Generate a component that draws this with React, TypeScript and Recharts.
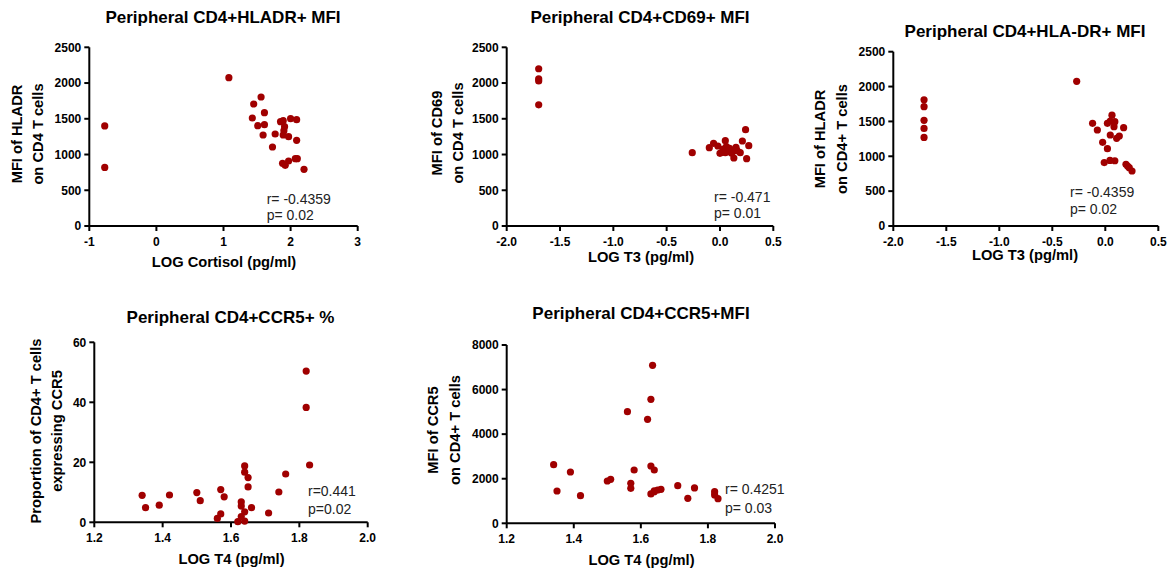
import React from "react";
import { ScatterChart, Scatter, XAxis, YAxis } from "recharts";

// GraphPad-style look: bold Arial, black 2px axes, dark red dots.
const FONT = "Arial, 'Liberation Sans', Helvetica, sans-serif";
const DOT = "#a00000";
const INK = "#000";

// --- data ---

// Peripheral CD4+HLADR+ MFI vs LOG Cortisol
const cortisolLog = [-0.77, -0.77, 1.08, 1.56, 1.45, 1.61, 1.43, 1.51, 1.61, 1.59, 1.77, 1.73, 1.85, 1.89, 2.0, 2.09, 1.91, 1.9, 1.89, 1.97, 2.09, 1.88, 1.92, 1.97, 2.07, 2.1, 2.2];
const hladrMfiCortisol = [1400, 820, 2075, 1805, 1707, 1586, 1511, 1403, 1418, 1273, 1287, 1105, 1460, 1473, 1502, 1488, 1390, 1334, 1273, 1250, 1199, 877, 849, 909, 942, 942, 793];

// Peripheral CD4+CD69+ MFI vs LOG T3
const t3LogCd69 = [-1.7, -1.7, -1.7, -1.7, -0.26, -0.1, -0.06, -0.02, 0.0, 0.02, 0.03, 0.05, 0.05, 0.06, 0.08, 0.09, 0.11, 0.12, 0.13, 0.15, 0.16, 0.19, 0.21, 0.24, 0.25, 0.27];
const cd69Mfi = [2200, 2060, 2030, 1695, 1026, 1096, 1157, 1119, 1017, 1031, 1075, 1194, 1026, 1110, 1040, 1087, 1017, 1060, 951, 1101, 1054, 1026, 1189, 1348, 942, 1124];

// Peripheral CD4+HLA-DR+ MFI vs LOG T3
const t3LogHladr = [-1.71, -1.71, -1.71, -1.71, -1.71, -0.27, -0.12, -0.075, -0.025, 0.02, -0.01, 0.044, 0.09, 0.063, 0.02, 0.047, 0.09, 0.082, 0.047, 0.107, 0.132, 0.173, 0.195, 0.21, 0.226, 0.252];
const hladrMfiT3 = [1810, 1711, 1515, 1400, 1271, 2075, 1472, 1377, 1200, 1109, 910, 940, 936, 1590, 1472, 1506, 1496, 1424, 1305, 1257, 1291, 1410, 884, 860, 836, 789];

// Peripheral CD4+CCR5+ % vs LOG T4
const t4LogPct = [1.34, 1.35, 1.39, 1.42, 1.5, 1.51, 1.56, 1.57, 1.57, 1.58, 1.62, 1.63, 1.63, 1.63, 1.64, 1.64, 1.64, 1.64, 1.65, 1.65, 1.66, 1.71, 1.74, 1.76, 1.82, 1.82, 1.83];
const ccr5Pct = [9.0, 4.9, 5.7, 9.1, 9.9, 7.2, 1.3, 2.8, 10.9, 8.5, 0.2, 1.9, 6.8, 5.4, 3.5, 0.4, 18.8, 16.7, 14.9, 11.8, 4.9, 3.1, 10.1, 16.1, 50.4, 38.3, 19.1];

// Peripheral CD4+CCR5+ MFI vs LOG T4
const t4LogMfi = [1.34, 1.35, 1.39, 1.42, 1.5, 1.51, 1.56, 1.57, 1.57, 1.58, 1.62, 1.63, 1.63, 1.63, 1.64, 1.64, 1.64, 1.65, 1.66, 1.71, 1.74, 1.76, 1.82, 1.82, 1.83, 1.635];
const ccr5Mfi = [2631, 1450, 2302, 1241, 1899, 1973, 5008, 1794, 1570, 2392, 4664, 5561, 2571, 1316, 2392, 1420, 1460, 1495, 1525, 1689, 1121, 1585, 1420, 1271, 1106, 7086];

// tick values
const cortisolTicks = [-1, 0, 1, 2, 3];
const t3Ticks = [-2, -1.5, -1, -0.5, 0, 0.5];
const t4Ticks = [1.2, 1.4, 1.6, 1.8, 2.0];
const mfi2500Ticks = [0, 500, 1000, 1500, 2000, 2500];
const pctTicks = [0, 20, 40, 60];
const mfi8000Ticks = [0, 2000, 4000, 6000, 8000];

type Pt = { x: number; y: number };
const zip = (xs: number[], ys: number[]): Pt[] => xs.map((x, i) => ({ x, y: ys[i] }));

const fixed1 = (v: number) => v.toFixed(1);
const plain = (v: number) => String(v);

const axisStyle = { stroke: INK, strokeWidth: 2 };
const tickStyle = { fill: INK, fontSize: 12, fontWeight: 700, fontFamily: FONT };

function Dot(props: any) {
  const { cx, cy } = props;
  if (cx == null || cy == null) return null;
  return <circle cx={cx} cy={cy} r={3.6} fill={DOT} />;
}

type Box = { left: number; top: number; w: number; h: number };
type Plot = { x0: number; x1: number; y0: number; y1: number };

type PanelDef = {
  box: Box;
  plot: Plot;
  data: Pt[];
  xTicks: number[];
  yTicks: number[];
  xFmt: (v: number) => string;
  title: string;
  titleAt: [number, number];
  xLabel: string;
  xLabelAt: [number, number];
  yLines: [string, string];
  yLineX: [number, number];
  yMid: number;
  stats: [string, string];
  statsAt: [number, number, number];
};

const Y_W = 45;
const X_H = 30;

function Panel({ d }: { d: PanelDef }) {
  const { box, plot } = d;
  const margin = {
    left: plot.x0 - box.left - Y_W,
    right: box.left + box.w - plot.x1,
    top: plot.y0 - box.top,
    bottom: box.top + box.h - plot.y1 - X_H,
  };
  const xs = d.xTicks;
  const ys = d.yTicks;
  return (
    <div style={{ position: "absolute", left: box.left, top: box.top }}>
      <ScatterChart width={box.w} height={box.h} margin={margin}>
        <XAxis
          type="number"
          dataKey="x"
          domain={[xs[0], xs[xs.length - 1]]}
          ticks={xs}
          interval={0}
          tickFormatter={d.xFmt}
          height={X_H}
          tickSize={5}
          tickMargin={6}
          axisLine={axisStyle}
          tickLine={axisStyle}
          tick={tickStyle}
        />
        <YAxis
          type="number"
          dataKey="y"
          domain={[ys[0], ys[ys.length - 1]]}
          ticks={ys}
          interval={0}
          tickFormatter={plain}
          width={Y_W}
          tickSize={5}
          tickMargin={3}
          axisLine={axisStyle}
          tickLine={axisStyle}
          tick={tickStyle}
        />
        <Scatter data={d.data} shape={Dot} isAnimationActive={false} />
      </ScatterChart>
    </div>
  );
}

function PanelText({ d }: { d: PanelDef }) {
  return (
    <g fontFamily={FONT}>
      <text x={d.titleAt[0]} y={d.titleAt[1]} textAnchor="middle" fontSize={17} fontWeight={700} fill={INK}>
        {d.title}
      </text>
      <text x={d.xLabelAt[0]} y={d.xLabelAt[1]} textAnchor="middle" fontSize={14.7} fontWeight={700} fill={INK}>
        {d.xLabel}
      </text>
      {d.yLines.map((line, i) => (
        <text
          key={i}
          x={d.yLineX[i]}
          y={d.yMid}
          transform={`rotate(-90 ${d.yLineX[i]} ${d.yMid})`}
          textAnchor="middle"
          fontSize={14.7}
          fontWeight={700}
          fill={INK}
        >
          {line}
        </text>
      ))}
      <text x={d.statsAt[0]} y={d.statsAt[1]} fontSize={14} fill="#222">
        {d.stats[0]}
      </text>
      <text x={d.statsAt[0]} y={d.statsAt[2]} fontSize={14} fill="#222">
        {d.stats[1]}
      </text>
    </g>
  );
}

const panels: PanelDef[] = [
  {
    box: { left: 0, top: 0, w: 380, h: 290 },
    plot: { x0: 89.3, x1: 357.7, y0: 47.3, y1: 226 },
    data: zip(cortisolLog, hladrMfiCortisol),
    xTicks: cortisolTicks,
    yTicks: mfi2500Ticks,
    xFmt: plain,
    title: "Peripheral CD4+HLADR+ MFI",
    titleAt: [223, 23],
    xLabel: "LOG Cortisol (pg/ml)",
    xLabelAt: [224, 267],
    yLines: ["MFI of HLADR", "on CD4 T cells"],
    yLineX: [22, 43],
    yMid: 134,
    stats: ["r= -0.4359", "p= 0.02"],
    statsAt: [266.7, 204, 220],
  },
  {
    box: { left: 390, top: 0, w: 400, h: 290 },
    plot: { x0: 506.7, x1: 773.3, y0: 47.3, y1: 226 },
    data: zip(t3LogCd69, cd69Mfi),
    xTicks: t3Ticks,
    yTicks: mfi2500Ticks,
    xFmt: fixed1,
    title: "Peripheral CD4+CD69+ MFI",
    titleAt: [640, 23],
    xLabel: "LOG T3 (pg/ml)",
    xLabelAt: [641, 262],
    yLines: ["MFI of CD69", "on CD4 T cells"],
    yLineX: [442, 463],
    yMid: 133,
    stats: ["r= -0.471", "p= 0.01"],
    statsAt: [714, 202, 218],
  },
  {
    box: { left: 790, top: 0, w: 382, h: 290 },
    plot: { x0: 893.3, x1: 1158.3, y0: 51.7, y1: 226 },
    data: zip(t3LogHladr, hladrMfiT3),
    xTicks: t3Ticks,
    yTicks: mfi2500Ticks,
    xFmt: fixed1,
    title: "Peripheral CD4+HLA-DR+ MFI",
    titleAt: [1025, 37],
    xLabel: "LOG T3 (pg/ml)",
    xLabelAt: [1025, 260],
    yLines: ["MFI of HLADR", "on CD4+ T cells"],
    yLineX: [825, 846.7],
    yMid: 139,
    stats: ["r= -0.4359", "p= 0.02"],
    statsAt: [1070, 197, 214],
  },
  {
    box: { left: 0, top: 290, w: 390, h: 281 },
    plot: { x0: 94.3, x1: 367.7, y0: 342.3, y1: 522.3 },
    data: zip(t4LogPct, ccr5Pct),
    xTicks: t4Ticks,
    yTicks: pctTicks,
    xFmt: fixed1,
    title: "Peripheral CD4+CCR5+ %",
    titleAt: [230.5, 323],
    xLabel: "LOG T4 (pg/ml)",
    xLabelAt: [231.5, 564],
    yLines: ["Proportion of CD4+ T cells", "expressing CCR5"],
    yLineX: [41, 62],
    yMid: 431,
    stats: ["r=0.441", "p=0.02"],
    statsAt: [308, 496, 514],
  },
  {
    box: { left: 390, top: 290, w: 400, h: 281 },
    plot: { x0: 506.7, x1: 775, y0: 345, y1: 523.3 },
    data: zip(t4LogMfi, ccr5Mfi),
    xTicks: t4Ticks,
    yTicks: mfi8000Ticks,
    xFmt: fixed1,
    title: "Peripheral CD4+CCR5+MFI",
    titleAt: [641, 319],
    xLabel: "LOG T4 (pg/ml)",
    xLabelAt: [641.5, 565],
    yLines: ["MFI of CCR5", "on CD4+ T cells"],
    yLineX: [438, 460],
    yMid: 430,
    stats: ["r= 0.4251", "p= 0.03"],
    statsAt: [725, 494, 513],
  },
];

export default function App() {
  return (
    <div style={{ position: "absolute", left: 0, top: 0, width: 1172, height: 571, background: "#fff", fontFamily: FONT }}>
      {panels.map((d, i) => (
        <Panel key={i} d={d} />
      ))}
      <svg width={1172} height={571} style={{ position: "absolute", left: 0, top: 0, pointerEvents: "none" }}>
        {panels.map((d, i) => (
          <PanelText key={i} d={d} />
        ))}
      </svg>
    </div>
  );
}
